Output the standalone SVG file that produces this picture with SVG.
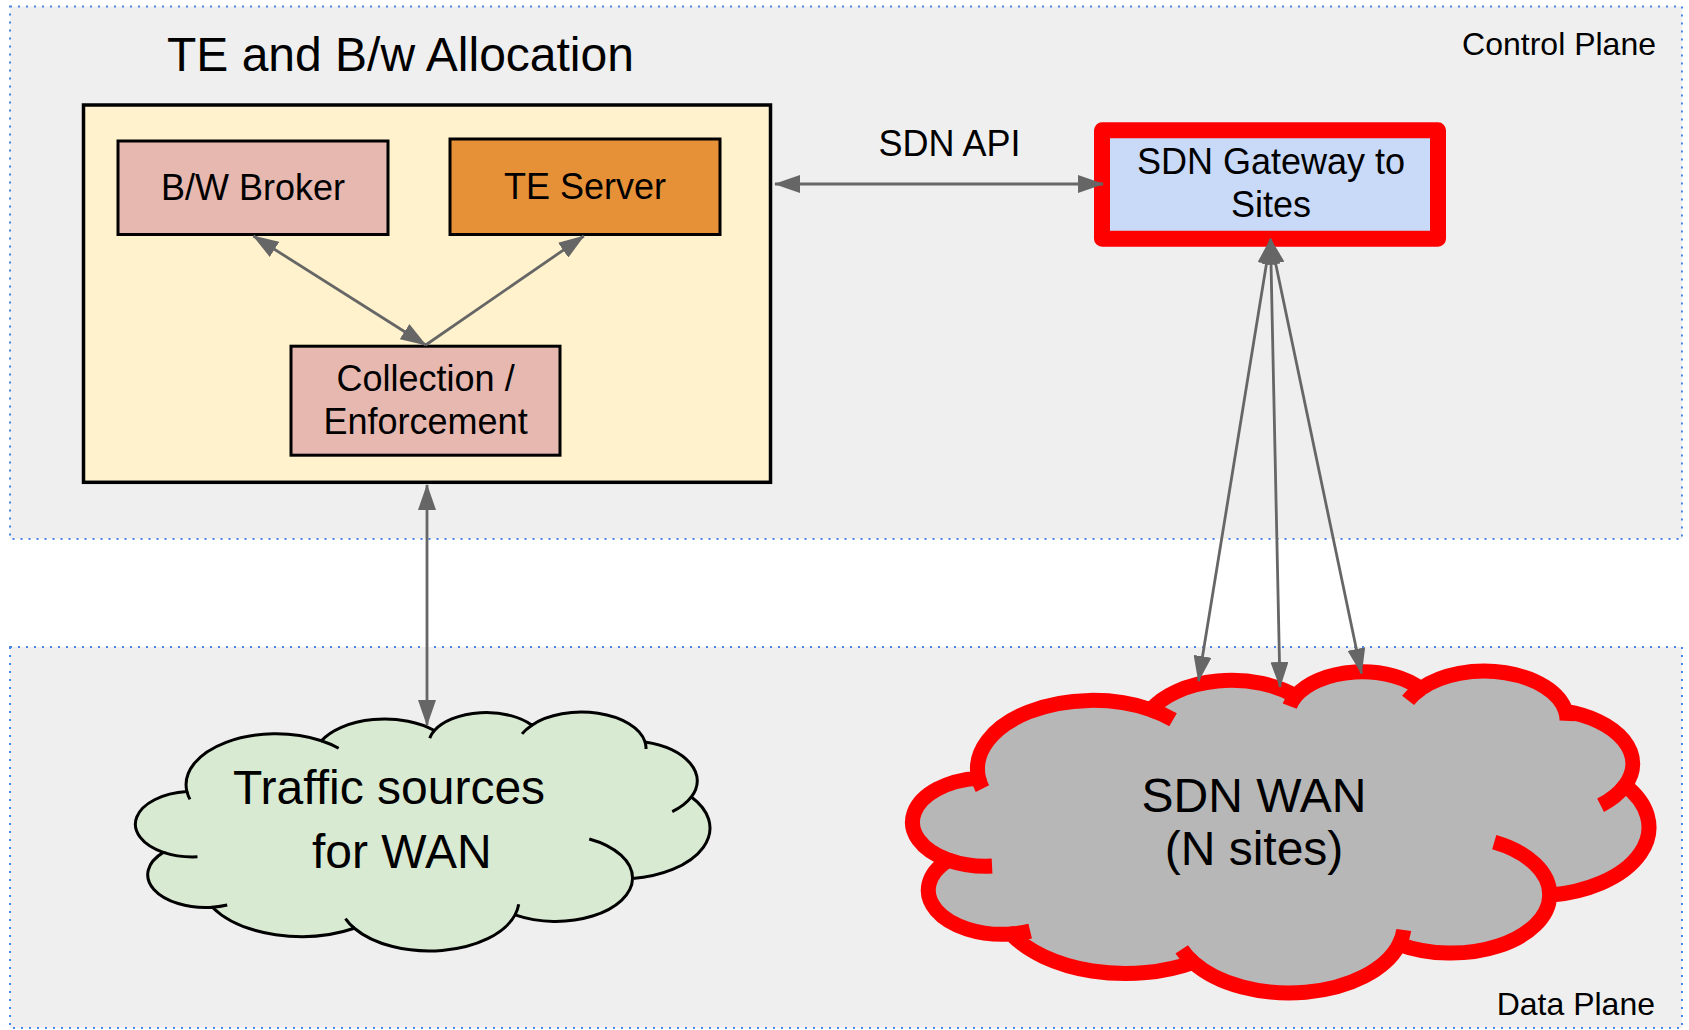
<svg xmlns="http://www.w3.org/2000/svg" width="1689" height="1030" viewBox="0 0 1689 1030">
  <style>
    text { font-family: "Liberation Sans", Arial, sans-serif; fill: #000; }
    .plane { fill: #efefef; stroke: #4a86e8; stroke-width: 2; stroke-dasharray: 2 6; }
    .box { stroke: #000; stroke-width: 3; }
    .conn { stroke: #666666; stroke-width: 2.8; fill: none; }
    .lbl { font-size: 36px; text-anchor: middle; }
    .big { font-size: 48px; }
    .cl { vector-effect: non-scaling-stroke; stroke-linecap: butt; }
  </style>
  <defs>
    <marker id="ah" viewBox="0 0 26 18" refX="25" refY="9" markerWidth="26" markerHeight="18" markerUnits="userSpaceOnUse" orient="auto-start-reverse">
      <path d="M0,0 L26,9 L0,18 z" fill="#666666"/>
    </marker>
  </defs>

  <rect width="1689" height="1030" fill="#ffffff"/>

  <g id="control-plane">
    <rect class="plane" x="10" y="6.5" width="1672" height="532.5"/>
    <text x="1656" y="55" font-size="32" text-anchor="end">Control Plane</text>
  </g>
  <g id="data-plane">
    <rect class="plane" x="10" y="647" width="1672" height="381"/>
    <text x="1655" y="1015" font-size="32" text-anchor="end">Data Plane</text>
  </g>

  <g id="te-allocation">
    <text class="big" x="167" y="70.7">TE and B/w Allocation</text>
    <rect x="83.5" y="105" width="687" height="377.3" fill="#fff2cc" stroke="#000" stroke-width="3.5"/>
  </g>

  <g id="bw-broker">
    <rect class="box" x="118" y="141" width="270" height="93.5" fill="#e6b8af"/>
    <text class="lbl" x="253" y="200">B/W Broker</text>
  </g>

  <g id="te-server">
    <rect class="box" x="450" y="139" width="270" height="95.5" fill="#e69138"/>
    <text class="lbl" x="585" y="199.3">TE Server</text>
  </g>

  <g id="collection">
    <rect class="box" x="291" y="346.2" width="269" height="109" fill="#e6b8af"/>
    <text class="lbl" x="425.6" y="390.7">Collection /</text>
    <text class="lbl" x="425.6" y="434">Enforcement</text>
  </g>

  <g id="sdn-gateway">
    <rect x="1102" y="130.3" width="336" height="108.4" fill="#c9daf8" stroke="#ff0000" stroke-width="16" stroke-linejoin="round"/>
    <text class="lbl" x="1271" y="174">SDN Gateway to</text>
    <text class="lbl" x="1271" y="216.7">Sites</text>
  </g>

  <g id="traffic-sources">
    <g transform="translate(135 712) scale(0.0133102 0.0055324)">
      <path class="cl" vector-effect="non-scaling-stroke" fill="#d9ead3" stroke="#000" stroke-width="3" d="M 3900 14370 A 6753 9190 0 0 1 14003 5198 A 5333 7267 0 0 1 22490 3355 A 4365 5945 0 0 1 29824 2380 A 4857 6595 0 0 1 38324 5426 A 5333 7273 0 0 1 41798 15354 A 6775 9220 0 0 1 37382 30094 A 5785 7867 0 0 1 28554 36672 A 6752 9215 0 0 1 16478 39090 A 7720 10543 0 0 1 5810 35290 A 4360 5918 0 0 1 2129 25370 A 4345 5945 0 0 1 3900 14370 Z"/>
      <path class="cl" vector-effect="non-scaling-stroke" fill="none" stroke="#000" stroke-width="3" d="M 4693 26177 A 4345 5945 0 0 1 2129 25370 M 6928 34899 A 4360 5918 0 0 1 5810 35290 M 16478 39090 A 6752 9215 0 0 1 15810 37350 M 28827 34751 A 6752 9215 0 0 1 28554 36672 M 34129 22954 A 5785 7867 0 0 1 37382 30094 M 41798 15354 A 5333 7273 0 0 1 40362 18009 M 38324 5426 A 4857 6595 0 0 1 38391 6693 M 29078 3952 A 4857 6595 0 0 1 29824 2380 M 22141 4720 A 4365 5945 0 0 1 22490 3355 M 14000 5192 A 6753 9190 0 0 1 15302 6545 M 4127 15789 A 6753 9190 0 0 1 3900 14370"/>
    </g>
    <text class="big" x="233" y="804">Traffic sources</text>
    <text class="big" x="312" y="868.3">for WAN</text>
  </g>

  <g id="sdn-wan">
    <g transform="translate(912 671) scale(0.0170602 0.0074537)">
      <path class="cl" vector-effect="non-scaling-stroke" fill="#b7b7b7" stroke="#ff0000" stroke-width="15" d="M 3900 14370 A 6753 9190 0 0 1 14003 5198 A 5333 7267 0 0 1 22490 3355 A 4365 5945 0 0 1 29824 2380 A 4857 6595 0 0 1 38324 5426 A 5333 7273 0 0 1 41798 15354 A 6775 9220 0 0 1 37382 30094 A 5785 7867 0 0 1 28554 36672 A 6752 9215 0 0 1 16478 39090 A 7720 10543 0 0 1 5810 35290 A 4360 5918 0 0 1 2129 25370 A 4345 5945 0 0 1 3900 14370 Z"/>
      <path class="cl" vector-effect="non-scaling-stroke" fill="none" stroke="#ff0000" stroke-width="15" d="M 4693 26177 A 4345 5945 0 0 1 2129 25370 M 6928 34899 A 4360 5918 0 0 1 5810 35290 M 16478 39090 A 6752 9215 0 0 1 15810 37350 M 28827 34751 A 6752 9215 0 0 1 28554 36672 M 34129 22954 A 5785 7867 0 0 1 37382 30094 M 41798 15354 A 5333 7273 0 0 1 40362 18009 M 38324 5426 A 4857 6595 0 0 1 38391 6693 M 29078 3952 A 4857 6595 0 0 1 29824 2380 M 22141 4720 A 4365 5945 0 0 1 22490 3355 M 14000 5192 A 6753 9190 0 0 1 15302 6545 M 4127 15789 A 6753 9190 0 0 1 3900 14370"/>
    </g>
    <text class="big" x="1254" y="811.7" text-anchor="middle">SDN WAN</text>
    <text class="big" x="1254" y="865" text-anchor="middle">(N sites)</text>
  </g>

  <g id="connectors">
    <line class="conn" x1="775" y1="184" x2="1103" y2="184" marker-start="url(#ah)" marker-end="url(#ah)"/>
    <text class="lbl" x="949.6" y="155.7">SDN API</text>
    <line class="conn" x1="253.4" y1="236" x2="425.7" y2="345" marker-start="url(#ah)" marker-end="url(#ah)"/>
    <line class="conn" x1="425.7" y1="345" x2="583.8" y2="236" marker-end="url(#ah)"/>
    <line class="conn" x1="427" y1="485" x2="427" y2="725" marker-start="url(#ah)" marker-end="url(#ah)"/>
    <line class="conn" x1="1270.5" y1="239" x2="1198.5" y2="681" marker-start="url(#ah)" marker-end="url(#ah)"/>
    <line class="conn" x1="1270.5" y1="239" x2="1280" y2="687" marker-start="url(#ah)" marker-end="url(#ah)"/>
    <line class="conn" x1="1270.5" y1="239" x2="1361.5" y2="673.5" marker-start="url(#ah)" marker-end="url(#ah)"/>
  </g>
</svg>
